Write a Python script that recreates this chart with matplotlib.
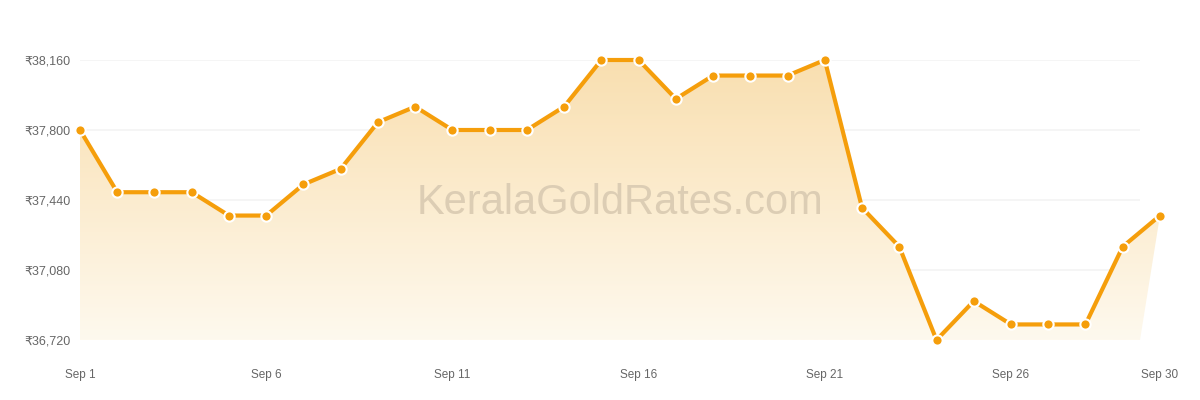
import matplotlib.pyplot as plt
import numpy as np
from matplotlib.patches import Polygon

days = list(range(1, 31))
rates = [37800, 37480, 37480, 37480, 37360, 37360, 37520, 37600, 37840, 37920,
         37800, 37800, 37800, 37920, 38160, 38160, 37960, 38080, 38080, 38080,
         38160, 37400, 37200, 36720, 36920, 36800, 36800, 36800, 37200, 37360]
y_ticks = [36720, 37080, 37440, 37800, 38160]
x_tick_days = [1, 6, 11, 16, 21, 26, 30]

ORANGE = "#f59e0b"
GREY = "#666666"
FONT = ["Liberation Sans", "DejaVu Sans"]

plt.rcParams["font.family"] = FONT

fig = plt.figure(figsize=(12, 4), dpi=100)
ax = fig.add_axes([80 / 1200, 60 / 400, 1060 / 1200, 280 / 400])

x = np.array(days) - 1
y = np.array(rates)
ymin, ymax = y_ticks[0], y_ticks[-1]
xright = 1060 / 37.24

# gridlines
for t in y_ticks:
    ax.axhline(t, color="#f4f4f4", lw=1.2, zorder=0)

# gradient fill under the line
verts = list(zip(x, y)) + [(xright, ymin), (0, ymin)]
poly = Polygon(verts, closed=True, facecolor="none", edgecolor="none")
ax.add_patch(poly)
grad = np.linspace(0, 1, 256).reshape(-1, 1)
c_top = np.array([249, 223, 176]) / 255
c_bot = np.array([254, 249, 238]) / 255
img = (c_bot + (c_top - c_bot) * grad).reshape(256, 1, 3)
im = ax.imshow(img, extent=[0, x[-1], ymin, ymax], origin="lower",
               aspect="auto", zorder=1)
im.set_clip_box(fig.bbox)
im.set_clip_path(poly)

ax.text((620 - 80) / 1060, 0.49, "KeralaGoldRates.com", transform=ax.transAxes,
        ha="center", va="center", fontsize=30, color="#dccdb4", zorder=2)

ax.plot(x, y, color=ORANGE, lw=3, zorder=3, clip_on=False,
        solid_joinstyle="round")
ax.scatter(x, y, s=55, color=ORANGE, edgecolor="white", linewidth=1.5,
           zorder=4, clip_on=False)

ax.set_yticks(y_ticks)
ax.set_yticklabels([f"₹{v:,}" for v in y_ticks])
ax.set_xticks([])
# x labels drawn as text so the last one (past the grid end) still shows
xform = ax.get_xaxis_transform()
for d in x_tick_days:
    ax.text(d - 1, -0.125, f"Sep {d}", transform=xform, ha="center",
            va="center", fontsize=8.5, color=GREY, clip_on=False)
ax.set_xlim(0, xright)
ax.set_ylim(ymin, ymax)
ax.tick_params(axis="y", length=0, pad=7, labelsize=9, labelcolor=GREY)
for s in ax.spines.values():
    s.set_visible(False)

fig.savefig("out.png", dpi=100, facecolor="white")
